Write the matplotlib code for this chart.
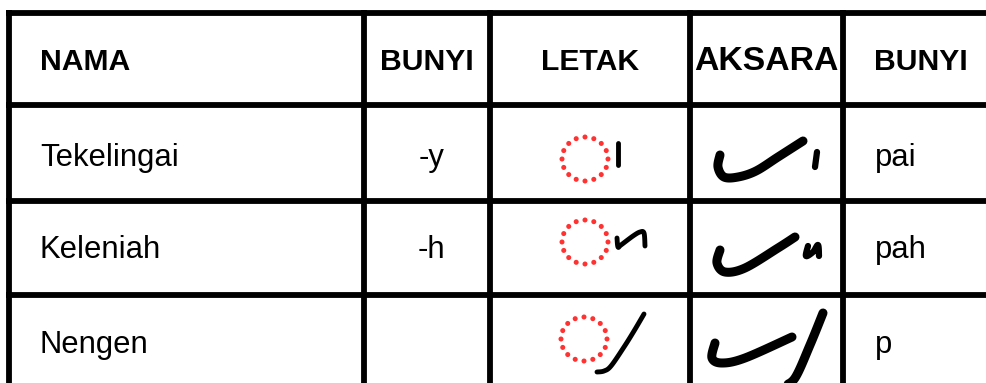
import matplotlib.pyplot as plt
import numpy as np

# table content
headers = ['NAMA', 'BUNYI', 'LETAK', 'AKSARA', 'BUNYI']
names = ['Tekelingai', 'Keleniah', 'Nengen']
sounds = ['-y', '-h', '']
results = ['pai', 'pah', 'p']

# hand drawn glyph strokes, offsets in px from the cell anchor
letak_marks = [
    [[(33, -16), (33, 6)]],
    [[(32, -4), (33, 5), (36, 3), (48, -6), (55, -10), (59, -9), (60, 4)]],
    [[(13, 33), (20, 32), (27, 27), (40, 8), (50, -8), (60, -25)]],
]
aksara_marks = [
    [[(-46, -4), (-48, 8), (-42, 18), (-28, 18), (-10, 12), (12, -2), (37, -18)],
     [(51, -7), (49, 8)]],
    [[(-46, -2), (-49, 11), (-41, 20), (-21, 16), (12, -4), (29, -15)],
     [(42, -6), (40, 4), (47, 0), (52, -7), (53, 4)]],
    [[(-51, -7), (-54, 8), (-44, 13), (-21, 8), (26, -13)],
     [(57, -37), (44, -5), (29, 28), (17, 36)]],
]

# layout (px)
W, H = 987, 383
col_x = [9, 363.5, 490, 689.5, 843]
row_y = [12.5, 104.5, 201, 294.5, H]
base_y = [69.5, 166, 258, 353]
circle_c = [(585, 159), (585, 242), (584, 339)]
aksara_c = [(766, 159), (766, 252), (766, 350)]


def smooth(pts, n=12):
    # catmull-rom through the stroke points
    pts = np.asarray(pts, dtype=float)
    if len(pts) < 3:
        return pts[:, 0], pts[:, 1]
    p = np.vstack([pts[0], pts, pts[-1]])
    out = []
    for i in range(1, len(p) - 2):
        p0, p1, p2, p3 = p[i - 1], p[i], p[i + 1], p[i + 2]
        for t in np.linspace(0, 1, n, endpoint=False):
            t2, t3 = t * t, t * t * t
            out.append(0.5 * ((2 * p1) + (-p0 + p2) * t
                              + (2 * p0 - 5 * p1 + 4 * p2 - p3) * t2
                              + (-p0 + 3 * p1 - 3 * p2 + p3) * t3))
    out.append(pts[-1])
    out = np.array(out)
    return out[:, 0], out[:, 1]


fig = plt.figure(figsize=(W / 100, H / 100), dpi=100)
ax = fig.add_axes([0, 0, 1, 1])
ax.set_xlim(0, W)
ax.set_ylim(H, 0)
ax.axis('off')

lw = 4.2
for y in row_y[:-1]:
    ax.plot([6, W], [y, y], color='black', lw=lw, solid_capstyle='butt')
for x in col_x:
    ax.plot([x, x], [row_y[0] - 2.5, H], color='black', lw=lw, solid_capstyle='butt')

font = ['Liberation Sans', 'DejaVu Sans']
fs = 22.3
hfs = 21.7


def col_center(i):
    return (col_x[i] + col_x[i + 1]) / 2


# header
for i, h in enumerate(headers):
    size = 24.3 if h == 'AKSARA' else hfs
    if i == 0 or i == 4:
        ax.text(col_x[i] + 31, base_y[0], h, fontsize=size, fontweight='bold',
                family=font, va='baseline', ha='left')
    else:
        ax.text(col_center(i), base_y[0] + (1 if h == 'AKSARA' else 0), h,
                fontsize=size, fontweight='bold',
                family=font, va='baseline', ha='center')

for r in range(len(names)):
    yb = base_y[r + 1]
    ax.text(col_x[0] + 31, yb, names[r], fontsize=fs, family=font, va='baseline')
    ax.text(col_center(1) + 5, yb, sounds[r], fontsize=fs, family=font,
            va='baseline', ha='center')
    ax.text(col_x[4] + 32, yb, results[r], fontsize=fs, family=font, va='baseline')

    # dotted red circle
    cx, cy = circle_c[r]
    t = np.linspace(0, 2 * np.pi, 16, endpoint=False)
    ax.scatter(cx + 23 * np.cos(t), cy + 22 * np.sin(t), s=13,
               color='#ff1a1a', edgecolors='none', alpha=0.9)
    for stroke in letak_marks[r]:
        xs, ys = smooth([(cx + p[0], cy + p[1]) for p in stroke])
        ax.plot(xs, ys, color='black', lw=3.5, solid_capstyle='round',
                solid_joinstyle='round')

    ax_x, ax_y = aksara_c[r]
    for k, stroke in enumerate(aksara_marks[r]):
        xs, ys = smooth([(ax_x + p[0], ax_y + p[1]) for p in stroke])
        w = 6.5 if k == 0 or r == 2 else 4.5
        ax.plot(xs, ys, color='black', lw=w, solid_capstyle='round',
                solid_joinstyle='round')

fig.savefig('out.png', dpi=100)
